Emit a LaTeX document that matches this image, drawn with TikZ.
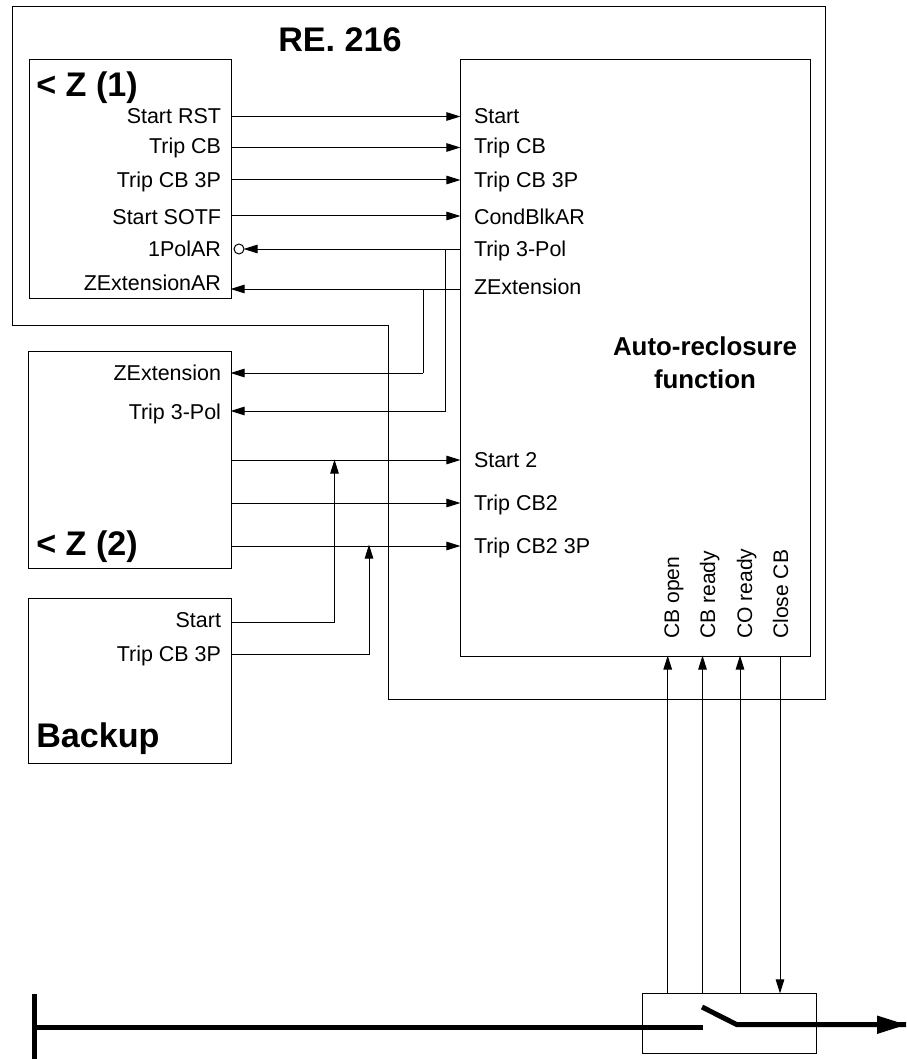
\documentclass[tikz,border=0pt]{standalone}
\usepackage{fontspec}
\setmainfont{Liberation Sans}
\usetikzlibrary{arrows.meta}
\tikzset{
  box/.style={draw,line width=0.75pt,anchor=north west,inner sep=0pt,outer sep=0pt},
  wire/.style={line width=0.75pt},
  sig/.style={wire,-{Triangle[length=10.5pt,width=6.4pt]},shorten >=-0.3pt},
  lab/.style={font=\fontsize{16.1}{18}\selectfont,inner sep=0pt,outer sep=0pt},
  labr/.style={lab,anchor=base east},
  labl/.style={lab,anchor=base west},
  labv/.style={font=\fontsize{15.8}{18}\selectfont,inner sep=0pt,rotate=90,anchor=base west},
  big/.style={font=\fontsize{25.6}{28}\selectfont\bfseries,inner sep=0pt,anchor=base west},
  head/.style={font=\fontsize{19.4}{25}\selectfont\bfseries,inner sep=0pt,align=center},
  power/.style={line width=3.75pt,line cap=butt}
}
\begin{document}
\begin{tikzpicture}[x=0.75pt,y=-0.75pt]
\useasboundingbox (0,0) rectangle (906,1059);
% outer frame
\coordinate (f1) at (12,7); \coordinate (f2) at (825,7); \coordinate (f3) at (825,699);
\coordinate (f4) at (388,699); \coordinate (f5) at (388,325); \coordinate (f6) at (12,325);
\draw[wire,line join=miter] (f1)--(f2)--(f3)--(f4)--(f5)--(f6)--cycle;
% boxes
\node[box,minimum width=151.5pt,minimum height=178.5pt] (z1) at (29.5,60) {};
\node[box,minimum width=152pt,minimum height=162.75pt] (z2) at (28.5,351) {};
\node[box,minimum width=152.25pt,minimum height=123.75pt] (bk) at (28,598) {};
\node[box,minimum width=262.5pt,minimum height=447pt] (ar) at (460,60) {};
\node[box,minimum width=130.5pt,minimum height=45pt] (cb) at (642.7,993) {};
% titles
\node[big] (t0) at (278,52) {RE. 216};
\node[big] (t1) at (36,97) {< Z (1)};
\node[big] (t2) at (36,555) {< Z (2)};
\node[big] (t3) at (36,747) {Backup};
\node[head] (t4) at (705,363) {Auto-reclosure\\function};
% labels left
\node[labr] (a1) at (221,124) {Start RST};
\node[labr] (a2) at (221,154) {Trip CB};
\node[labr] (a3) at (221,188) {Trip CB 3P};
\node[labr] (a4) at (221,224) {Start SOTF};
\node[labr] (a5) at (221,257) {1PolAR};
\node[labr] (a6) at (221,290) {ZExtensionAR};
\node[labr] (b1) at (221,380) {ZExtension};
\node[labr] (b2) at (221,419) {Trip 3-Pol};
\node[labr] (c1) at (221,627) {Start};
\node[labr] (c2) at (221,661) {Trip CB 3P};
% labels right
\node[labl] (r1) at (474,124) {Start};
\node[labl] (r2) at (474,154) {Trip CB};
\node[labl] (r3) at (474,188) {Trip CB 3P};
\node[labl] (r4) at (474,224) {CondBlkAR};
\node[labl] (r5) at (474,257) {Trip 3-Pol};
\node[labl] (r6) at (474,294) {ZExtension};
\node[labl] (r7) at (474,467) {Start 2};
\node[labl] (r8) at (474,510) {Trip CB2};
\node[labl] (r9) at (474,553) {Trip CB2 3P};
% vertical labels
\node[labv] (v1) at (679,639) {CB open};
\node[labv] (v2) at (715,639) {CB ready};
\node[labv] (v3) at (752,639) {CO ready};
\node[labv] (v4) at (788,639) {Close CB};
% ports
\foreach \n/\y in {1/116.5,2/147.5,3/180,4/216,5/249,6/289}{
  \coordinate (zp\n) at (231,\y); \coordinate (ap\n) at (460,\y);}
\foreach \n/\y in {7/460,8/503,9/546}{
  \coordinate (zp\n) at (231,\y); \coordinate (ap\n) at (460,\y);}
\coordinate (zq1) at (231,373); \coordinate (zq2) at (231,411);
\coordinate (bp1) at (231,622); \coordinate (bp2) at (231,654);
\coordinate (j1) at (423,289); \coordinate (j1b) at (423,373);
\coordinate (j2) at (445.5,249); \coordinate (j2b) at (445.5,411);
\coordinate (m1) at (334.5,622); \coordinate (m1t) at (334.5,460);
\coordinate (m2) at (369,654); \coordinate (m2t) at (369,545);
\node[draw,circle,line width=0.75pt,minimum size=7.5pt,inner sep=0pt,outer sep=0pt] (inv) at (239,249) {};
% wires
\foreach \n in {1,2,3,4,7,8,9} \draw[sig] (zp\n)--(ap\n);
\draw[sig] (ap5)--(inv.east);
\draw[sig] (ap6)--(zp6);
\draw[wire] (j1)--(j1b); \draw[sig] (j1b)--(zq1);
\draw[wire] (j2)--(j2b); \draw[sig] (j2b)--(zq2);
\draw[sig] (bp1)--(m1)--(m1t);
\draw[sig] (bp2)--(m2)--(m2t);
% breaker connections
\foreach \n/\x in {1/667.7,2/702.5,3/740,4/780}{
  \coordinate (ab\n) at (\x,656); \coordinate (cb\n) at (\x,993);}
\foreach \n in {1,2,3} \draw[sig] (cb\n)--(ab\n);
\draw[sig] (ab4)--(cb4);
% power line
\coordinate (b0) at (34.5,994); \coordinate (b1e) at (34.5,1059); \coordinate (l0) at (34.5,1027.5);
\coordinate (l1) at (702.5,1027.5); \coordinate (s0) at (702,1007); \coordinate (s1) at (737,1024.7);
\coordinate (e1) at (906,1024.7);
\draw[power,line width=4.1pt] (b0)--(b1e);
\draw[power] (l0)--(l1);
\draw[power,line join=miter] (s0)--(s1)--(e1|-s1)--++(-20,0);
\fill (906,1024.7)--(877,1015.5)--(877,1034)--cycle;
\end{tikzpicture}
\end{document}
